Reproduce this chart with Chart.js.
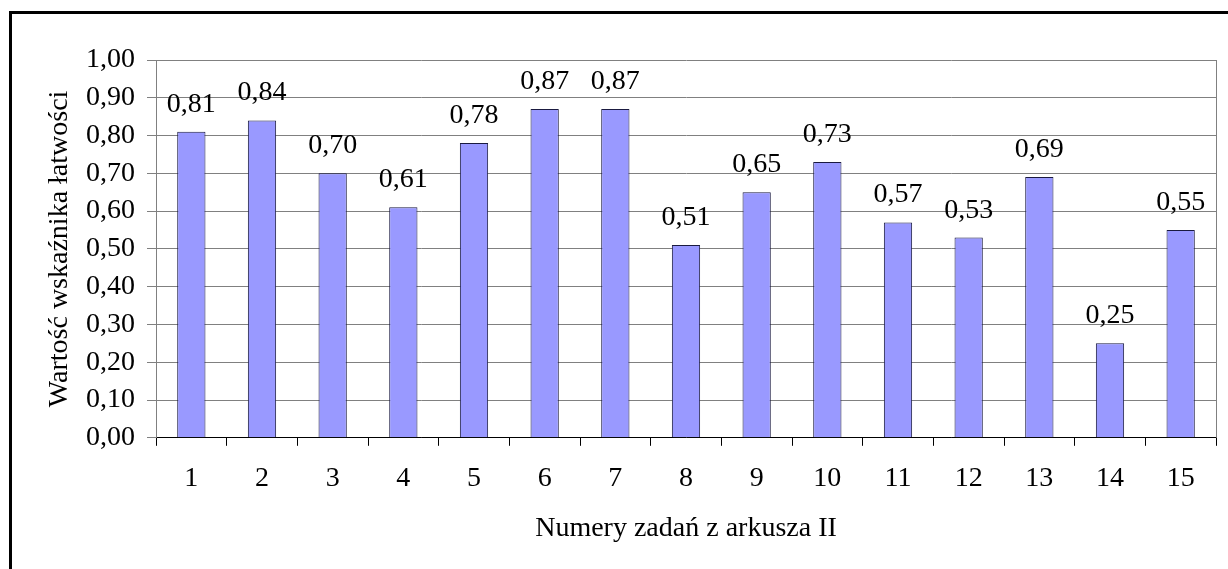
<!DOCTYPE html>
<html lang="pl">
<head>
    <meta charset="UTF-8">
    <title>Wskaźnik łatwości</title>
    <style>
        html, body {
            margin: 0;
            padding: 0;
            background: #fff;
            overflow: hidden;
        }
        .frame {
            position: absolute;
            left: 9px;
            top: 11px;
            width: 1300px;
            height: 700px;
            border: 3px solid #000;
        }
        #chartBox {
            position: absolute;
            left: 0;
            top: 0;
            width: 1228px;
            height: 569px;
        }
    </style>
</head>
<body>
    <div class="frame"></div>
    <div id="chartBox">
        <canvas id="latwoscChart" width="1228" height="569"></canvas>
    </div>

    <script src="https://cdn.jsdelivr.net/npm/chart.js"></script>
    <script>
        // Dane z wykresu
        const zadania = ['1', '2', '3', '4', '5', '6', '7', '8', '9', '10', '11', '12', '13', '14', '15'];
        const wskaznik = [0.81, 0.84, 0.70, 0.61, 0.78, 0.87, 0.87, 0.51, 0.65, 0.73, 0.57, 0.53, 0.69, 0.25, 0.55];
        const yTicks = [0, 0.1, 0.2, 0.3, 0.4, 0.5, 0.6, 0.7, 0.8, 0.9, 1.0];

        const serif = '"Liberation Serif", "Times New Roman", serif';
        const fmt = v => v.toFixed(2).replace('.', ',');

        // ramka obszaru wykresu
        const plotFrame = {
            id: 'plotFrame',
            afterDraw(chart) {
                const { ctx, chartArea: a } = chart;
                ctx.save();
                ctx.strokeStyle = '#808080';
                ctx.lineWidth = 1;
                ctx.beginPath();
                ctx.moveTo(a.right + 0.5, a.top);
                ctx.lineTo(a.right + 0.5, a.bottom);
                ctx.stroke();
                ctx.restore();
            }
        };

        // etykiety nad słupkami
        const valueLabels = {
            id: 'valueLabels',
            afterDatasetsDraw(chart) {
                const { ctx } = chart;
                const meta = chart.getDatasetMeta(0);
                ctx.save();
                ctx.font = '28px ' + serif;
                ctx.fillStyle = '#000';
                ctx.textAlign = 'center';
                ctx.textBaseline = 'alphabetic';
                meta.data.forEach((bar, i) => {
                    ctx.fillText(fmt(wskaznik[i]), bar.x, bar.y - 20);
                });
                ctx.restore();
            }
        };

        const ctx = document.getElementById('latwoscChart').getContext('2d');
        const latwoscChart = new Chart(ctx, {
            type: 'bar',
            data: {
                labels: zadania,
                datasets: [{
                    data: wskaznik,
                    backgroundColor: '#9999FF',
                    borderColor: '#1a1a40',
                    borderWidth: 1,
                    barPercentage: 0.4,
                    categoryPercentage: 1.0
                }]
            },
            options: {
                responsive: false,
                animation: false,
                layout: {
                    padding: { left: 40, top: 60, right: 12, bottom: 20 }
                },
                plugins: {
                    legend: { display: false },
                    tooltip: { enabled: false }
                },
                scales: {
                    x: {
                        grid: {
                            offset: true,
                            drawOnChartArea: false,
                            tickLength: 8,
                            color: '#000'
                        },
                        border: { color: '#000', width: 1 },
                        ticks: {
                            color: '#000',
                            padding: 16,
                            font: { family: serif, size: 28 }
                        },
                        title: {
                            display: true,
                            text: 'Numery zadań z arkusza II',
                            color: '#000',
                            padding: { top: 0, bottom: 4 },
                            font: { family: serif, size: 28 }
                        }
                    },
                    y: {
                        min: 0,
                        max: 1,
                        afterBuildTicks: scale => {
                            scale.ticks = yTicks.map(v => ({ value: v }));
                        },
                        afterFit: scale => {
                            scale.width = 116;
                        },
                        grid: {
                            color: '#808080',
                            tickLength: 9
                        },
                        border: { color: '#808080' },
                        ticks: {
                            color: '#000',
                            padding: 12,
                            font: { family: serif, size: 28 },
                            callback: v => fmt(v)
                        },
                        title: {
                            display: true,
                            text: 'Wartość wskaźnika łatwości',
                            color: '#000',
                            padding: { top: 3, bottom: 0 },
                            font: { family: serif, size: 28 }
                        }
                    }
                }
            },
            plugins: [plotFrame, valueLabels]
        });
    </script>
</body>
</html>
